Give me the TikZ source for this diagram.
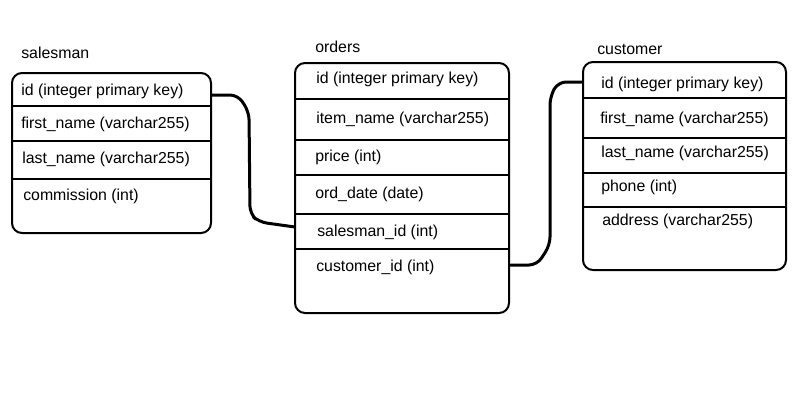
\documentclass[tikz,border=0pt]{standalone}
\usepackage{fontspec}
\setmainfont{Liberation Sans}
\usepackage{tikz}
\usetikzlibrary{positioning, calc}

\newlength\px
\setlength\px{0.75pt}

\begin{document}
\begin{tikzpicture}[
        x=0.75pt, y=-0.75pt,
        % Estilos das tabelas
        tablebox/.style={draw, line width=2\px, rounded corners=10\px, outer sep=0pt, anchor=north west},
        field/.style={anchor=west, inner sep=0pt, text height=0.75em, text depth=0.25em, font=\fontsize{11.9}{14}\selectfont},
        tabletitle/.style={field},
        divider/.style={line width=1.6\px},
        link/.style={line width=3\px, rounded corners=8\px}
    ]
    \useasboundingbox (0,0) rectangle (800,400);

    % 1. salesman
    \node (salesman) [tablebox, minimum width=199\px, minimum height=160\px] at (12,73) {};
    \node (salesman-title) [tabletitle] at (21,55) {salesman};
    \foreach \y in {106,141,179}
        \draw [divider] (salesman.west |- 0,\y) -- (salesman.east |- 0,\y);
    \node (s-id) [field] at (21,92.5) {id (integer primary key)};
    \node (s-first) [field] at (21,125) {first\_name (varchar255)};
    \node (s-last) [field] at (22,160) {last\_name (varchar255)};
    \node (s-comm) [field] at (23,197) {commission (int)};

    % 2. orders
    \node (orders) [tablebox, minimum width=214\px, minimum height=250\px] at (295,63) {};
    \node (orders-title) [tabletitle] at (315,49) {orders};
    \foreach \y in {99,140,175,214,249}
        \draw [divider] (orders.west |- 0,\y) -- (orders.east |- 0,\y);
    \node (o-id) [field] at (316,80.5) {id (integer primary key)};
    \node (o-item) [field] at (316,120) {item\_name (varchar255)};
    \node (o-price) [field] at (315,158.5) {price (int)};
    \node (o-date) [field] at (315,195) {ord\_date (date)};
    \node (o-sid) [field] at (317,233) {salesman\_id (int)};
    \node (o-cid) [field] at (316,268) {customer\_id (int)};

    % 3. customer
    \node (customer) [tablebox, minimum width=203\px, minimum height=208\px] at (583,62) {};
    \node (customer-title) [tabletitle] at (597,51) {customer};
    \foreach \y in {98,138,173,207}
        \draw [divider] (customer.west |- 0,\y) -- (customer.east |- 0,\y);
    \node (c-id) [field] at (601,85.5) {id (integer primary key)};
    \node (c-first) [field] at (600,120) {first\_name (varchar255)};
    \node (c-last) [field] at (601,154.5) {last\_name (varchar255)};
    \node (c-phone) [field] at (601,188.5) {phone (int)};
    \node (c-addr) [field] at (602,222.5) {address (varchar255)};

    % Ligacoes desenhadas a mao
    \draw [link] ($(s-id -| salesman.east)+(0,2.5)$) -- (238,95) -- (249,112)
        -- (250,214) -- (259,222) -- ($(o-sid -| orders.west)+(0,-6)$);
    \draw [link] ($(o-cid -| orders.east)+(0,-3)$) -- (537,265) -- (550,245)
        -- (550,97) -- (558,82) -- ($(c-id -| customer.west)+(0,-3.5)$);

\end{tikzpicture}
\end{document}
